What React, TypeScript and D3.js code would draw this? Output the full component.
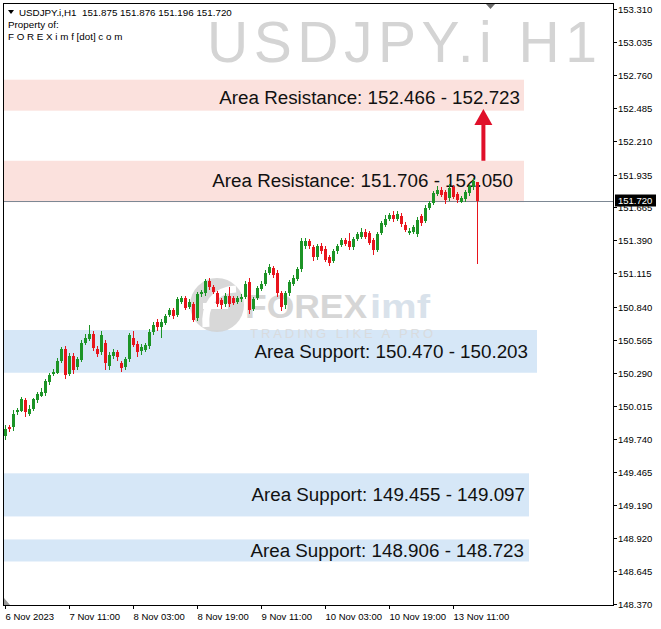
import React from 'react';
import * as d3 from 'd3';

// ---------- DATA ----------
const opens = [149.76,149.84,149.84,149.96,149.97,150.06,149.95,149.99,150.06,150.10,
150.12,150.21,150.28,150.29,150.39,150.49,150.28,150.43,150.33,150.40,
150.54,150.57,150.61,150.49,150.46,150.54,150.35,150.43,150.46,150.37,
150.33,150.40,150.58,150.53,150.47,150.48,150.51,150.63,150.71,150.67,
150.70,150.77,150.81,150.77,150.88,150.91,150.84,150.86,150.74,150.94,
150.95,151.05,151.00,150.95,150.89,150.86,150.93,150.91,150.88,150.90,
150.92,151.04,150.82,150.91,150.99,151.03,151.12,151.16,151.12,150.95,
150.85,150.95,151.03,151.07,151.15,151.34,151.38,151.33,151.25,151.34,
151.32,151.25,151.22,151.30,151.35,151.39,151.38,151.33,151.40,151.42,
151.46,151.45,151.39,151.31,151.45,151.52,151.57,151.60,151.57,151.59,
151.52,151.45,151.46,151.44,151.59,151.55,151.66,151.70,151.78,151.81,
151.79,151.74,151.83,151.77,151.71,151.73,151.78,151.83,151.875];
const highs = [149.86,149.86,149.98,150.00,150.09,150.08,150.02,150.08,150.13,150.16,
150.24,150.29,150.32,150.41,150.50,150.51,150.45,150.45,150.42,150.56,
150.61,150.69,150.64,150.51,150.64,150.56,150.46,150.49,150.48,150.39,
150.42,150.62,150.64,150.55,150.53,150.54,150.65,150.71,150.74,150.74,
150.78,150.83,150.83,150.92,150.93,150.93,150.90,150.88,150.96,150.98,
151.07,151.08,151.02,150.97,150.91,150.95,151.00,150.93,150.93,150.94,
151.05,151.08,150.92,151.01,151.05,151.14,151.19,151.18,151.14,150.97,
150.97,151.06,151.10,151.17,151.41,151.41,151.40,151.35,151.36,151.37,
151.34,151.27,151.32,151.36,151.41,151.41,151.45,151.42,151.46,151.49,
151.48,151.47,151.41,151.46,151.55,151.60,151.62,151.63,151.63,151.62,
151.54,151.49,151.52,151.58,151.61,151.68,151.72,151.80,151.84,151.83,
151.81,151.86,151.85,151.79,151.76,151.81,151.86,151.91,151.876];
const lows = [149.73,149.80,149.81,149.94,149.96,149.92,149.93,149.97,150.04,150.09,
150.10,150.19,150.26,150.28,150.37,150.24,150.26,150.28,150.31,150.38,
150.52,150.55,150.47,150.42,150.44,150.31,150.31,150.40,150.39,150.30,
150.31,150.38,150.50,150.42,150.44,150.46,150.49,150.60,150.64,150.58,
150.69,150.75,150.74,150.75,150.86,150.81,150.82,150.71,150.72,150.92,
150.93,150.98,150.94,150.84,150.82,150.84,150.84,150.85,150.86,150.88,
150.90,150.78,150.80,150.89,150.97,151.01,151.10,151.08,150.92,150.80,
150.82,150.93,151.01,151.05,151.13,151.32,151.32,151.22,151.23,151.28,
151.21,151.18,151.20,151.28,151.33,151.34,151.31,151.31,151.38,151.40,
151.40,151.35,151.27,151.29,151.43,151.50,151.55,151.54,151.55,151.50,
151.46,151.43,151.44,151.42,151.51,151.53,151.64,151.68,151.76,151.75,
151.69,151.72,151.73,151.70,151.70,151.71,151.76,151.81,151.196];
const closes = [149.82,149.82,149.95,149.98,150.07,149.96,149.99,150.07,150.11,150.13,
150.22,150.27,150.30,150.39,150.49,150.27,150.43,150.31,150.40,150.54,
150.58,150.61,150.49,150.45,150.60,150.37,150.44,150.46,150.42,150.33,
150.40,150.60,150.52,150.46,150.50,150.52,150.63,150.69,150.67,150.71,
150.76,150.81,150.76,150.90,150.91,150.83,150.88,150.73,150.94,150.96,
151.05,151.00,150.96,150.86,150.85,150.93,150.86,150.87,150.91,150.92,
151.03,150.81,150.90,150.99,151.03,151.12,151.17,151.10,150.95,150.83,
150.95,151.04,151.08,151.15,151.38,151.38,151.34,151.25,151.34,151.30,
151.23,151.20,151.30,151.34,151.39,151.36,151.33,151.40,151.44,151.46,
151.42,151.37,151.31,151.44,151.53,151.57,151.60,151.57,151.61,151.52,
151.48,151.47,151.50,151.56,151.53,151.66,151.70,151.78,151.81,151.77,
151.72,151.82,151.75,151.72,151.74,151.79,151.84,151.88,151.72];

const priceTicks = ["153.310","153.035","152.760","152.485","152.210","151.935","151.665",
"151.390","151.115","150.840","150.565","150.290","150.015","149.740","149.465","149.190",
"148.920","148.645","148.370"];
const timeLabels = ["6 Nov 2023","7 Nov 11:00","8 Nov 03:00","8 Nov 19:00","9 Nov 11:00",
"10 Nov 03:00","10 Nov 19:00","13 Nov 11:00"];
const timeLabelBars = [0,16,32,48,64,80,96,112];

const zoneKinds = ["res","res","sup","sup","sup"];
const zoneHigh = [152.723,152.050,150.645,149.455,148.906];
const zoneLow = [152.466,151.706,150.290,149.097,148.723];
const zoneEndBar = [129.75,129.75,133,131,131];
const zoneLabels = ["Area Resistance: 152.466 - 152.723","Area Resistance: 151.706 - 152.050",
"Area Support: 150.470 - 150.203","Area Support: 149.455 - 149.097","Area Support: 148.906 - 148.723"];
const zoneLabelPrice = [152.52,151.834,150.416,149.222,148.758];
const zoneLabelEndBar = [128.75,127,130.75,130,129.75];

const headerText = "USDJPY.i,H1  151.875 151.876 151.196 151.720";
const currentPrice = 151.72;
const arrowFrom = 152.05;
const arrowTo = 152.48;
const arrowBar = 119.6;

// ---------- CHART ----------
const W = 661, H = 629;
const L = 3, T = 3, R = 613, B = 605;
const FONT = "'Liberation Sans', Arial, sans-serif";
const GREEN = "#1c9426";
const RED = "#e8141c";

export default function App() {
  const y = d3.scaleLinear().domain([148.37, 153.31]).range([604, 9]);
  const x = d3.scaleLinear().domain([0, 118]).range([5, 477]);
  const px = (v: number) => Math.round(x(v)) + 0.5;

  const candles = opens.map((o, i) => ({ o, h: highs[i], l: lows[i], c: closes[i], i }));
  const ax = x(arrowBar);
  const yTip = y(arrowTo), yBase = y(arrowFrom);

  return (
    <svg width={W} height={H} style={{ position: 'absolute', left: 0, top: 0, background: '#fff' }}
      xmlns="http://www.w3.org/2000/svg">
      <rect x={0} y={0} width={W} height={H} fill="#fff" />
      {/* big watermark */}
      <text x={207} y={62} fontFamily={FONT} fontSize={57} fill="#d4d4d4"
        textLength={390} lengthAdjust="spacing">USDJPY.i H1</text>

      {/* zones */}
      {zoneKinds.map((k, i) => (
        <rect key={'z' + i} x={L + 1} y={y(zoneHigh[i])} width={x(zoneEndBar[i]) - (L + 1)}
          height={y(zoneLow[i]) - y(zoneHigh[i])} fill={k === 'res' ? '#fbe1dd' : '#d6e7f7'} />
      ))}

      {/* logo watermark */}
      <g opacity={0.85}>
        <circle cx={217} cy={305} r={27} fill="#d2d2d2" />
        <path d="M206 327 C204 305 214 290 236 289" stroke="#fff" strokeWidth={7} fill="none" />
        <path d="M203 306 L228 306" stroke="#fff" strokeWidth={6} />
        <text x={245} y={318} fontFamily={FONT} fontWeight="bold" fontSize={34} fill="#cfcfcf"
          textLength={122} lengthAdjust="spacingAndGlyphs">FOREX</text>
        <text x={370} y={318} fontFamily={FONT} fontWeight="bold" fontSize={34} fill="#d3dde8"
          textLength={60} lengthAdjust="spacingAndGlyphs">imf</text>
        <text x={250} y={338} fontFamily={FONT} fontSize={13} fill="#dadada"
          textLength={183} lengthAdjust="spacing">TRADING LIKE A PRO</text>
      </g>

      {/* current price line */}
      <line x1={L} x2={R} y1={Math.round(y(currentPrice)) + 0.5} y2={Math.round(y(currentPrice)) + 0.5}
        stroke="#7d8894" strokeWidth={1} />

      {/* zone labels */}
      {zoneLabels.map((t, i) => (
        <text key={'zl' + i} x={x(zoneLabelEndBar[i])} y={y(zoneLabelPrice[i])} textAnchor="end"
          fontFamily={FONT} fontSize={18.8} fill="#111">{t}</text>
      ))}

      {/* candles */}
      {candles.map(d => {
        const cx = px(d.i);
        const up = d.c >= d.o;
        const col = up ? GREEN : RED;
        const top = y(Math.max(d.o, d.c));
        const bot = y(Math.min(d.o, d.c));
        return (
          <g key={'c' + d.i}>
            <line x1={cx} x2={cx} y1={Math.round(y(d.h))} y2={Math.round(y(d.l))} stroke={col}
              strokeWidth={1} shapeRendering="crispEdges" />
            <rect x={cx - 1.5} y={Math.round(top)} width={3} height={Math.max(1, Math.round(bot - top))}
              fill={col} shapeRendering="crispEdges" />
          </g>
        );
      })}

      {/* arrow */}
      <line x1={ax} x2={ax} y1={yBase} y2={yTip + 14} stroke="#e0102a" strokeWidth={4} />
      <path d={`M${ax} ${yTip} L${ax - 9} ${yTip + 16} L${ax + 9} ${yTip + 16} Z`} fill="#e0102a" />

      {/* frame */}
      <rect x={L + 0.5} y={T + 0.5} width={R - L} height={B - T} fill="none" stroke="#000" strokeWidth={1} />
      <path d="M486 4 L495 4 L490.5 9 Z" fill="#6b6b6b" />
      <path d="M4 598 L4 605 L10 605 Z" fill="#9a9a9a" />

      {/* header */}
      <path d="M8 10 L14 10 L11 14 Z" fill="#000" />
      <text x={19} y={16} fontFamily={FONT} fontSize={9.8} fill="#000" style={{ whiteSpace: 'pre' }}>{headerText}</text>
      <text x={8} y={28} fontFamily={FONT} fontSize={9.8} fill="#000">Property of:</text>
      <text x={8} y={40} fontFamily={FONT} fontSize={9.8} fill="#000">F O R E X i m f [dot] c o m</text>

      {/* right axis */}
      {priceTicks.map((t, i) => {
        const yy = Math.round(y(+t)) + 0.5;
        return (
          <g key={'pt' + i}>
            <line x1={R} x2={R + 4} y1={yy} y2={yy} stroke="#000" />
            <text x={618} y={yy + 3.5} fontFamily={FONT} fontSize={9.5} fill="#000">{t}</text>
          </g>
        );
      })}
      <rect x={615} y={y(currentPrice) - 6} width={41} height={12} fill="#000" />
      <text x={618} y={y(currentPrice) + 3.5} fontFamily={FONT} fontSize={9.5} fill="#fff">151.720</text>

      {/* bottom axis */}
      {timeLabels.map((t, i) => {
        const xx = px(timeLabelBars[i]);
        return (
          <g key={'tl' + i}>
            <line x1={xx} x2={xx} y1={B} y2={B + 4} stroke="#000" />
            <text x={xx} y={620} fontFamily={FONT} fontSize={9.5} fill="#000">{t}</text>
          </g>
        );
      })}
    </svg>
  );
}
